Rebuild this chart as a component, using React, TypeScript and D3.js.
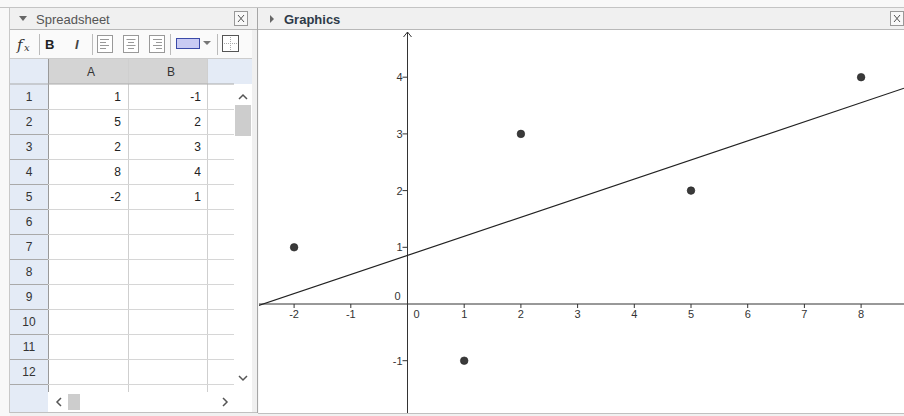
import React from 'react';
import * as d3 from 'd3';

// spreadsheet values (column A = x, column B = y)
const colA = [1, 5, 2, 8, -2];
const colB = [-1, 2, 3, 4, 1];
const rowLabels = ['1', '2', '3', '4', '5', '6', '7', '8', '9', '10', '11', '12'];
const colLabels = ['A', 'B'];
const xTicks = [-2, -1, 1, 2, 3, 4, 5, 6, 7, 8];
const yTicks = [-1, 1, 2, 3, 4];

const W = 904;
const H = 416;
const UI_FONT = '"Liberation Sans", Arial, sans-serif';

// graphics view box
const G = { x0: 258, x1: 904, y0: 30, y1: 413 };

const App: React.FC = () => {
  const x = d3.scaleLinear().domain([-2, 8]).range([294.1, 861.1]);
  const y = d3.scaleLinear().domain([-1, 4]).range([360.7, 77.2]);

  // least squares fit of B on A
  const mx = d3.mean(colA) as number;
  const my = d3.mean(colB) as number;
  const sxy = d3.sum(colA, (a, i) => (a - mx) * (colB[i] - my));
  const sxx = d3.sum(colA, (a) => (a - mx) * (a - mx));
  const slope = sxy / sxx;
  const icpt = my - slope * mx;
  const xl = x.invert(G.x0);
  const xr = x.invert(G.x1);
  const fit = d3.line<number>().x((v) => x(v)).y((v) => y(icpt + slope * v));

  const x0 = x(0);
  const y0 = y(0);

  // spreadsheet geometry
  const rowTop = 84;
  const rowH = 25;
  const hdrX = 10;
  const colX = [48, 128, 207];
  const colW = 80;

  return (
    <div style={{ position: 'absolute', left: 0, top: 0 }}>
      <svg width={W} height={H} style={{ display: 'block', fontFamily: UI_FONT }}>
        <defs>
          <clipPath id="gclip">
            <rect x={G.x0 + 1} y={G.y0} width={G.x1 - G.x0 - 1} height={G.y1 - G.y0} />
          </clipPath>
        </defs>
        <rect width={W} height={H} fill="#f1f1f1" />
        <rect width={W} height={7} fill="#f8f8f8" />
        <rect width={10} height={H} fill="#f8f8f8" />
        <line x1={0} x2={W} y1={7.5} y2={7.5} stroke="#c4c4c4" />
        <line x1={9.5} x2={9.5} y1={8} y2={413} stroke="#c8c8c8" />

        {/* ---- title bars ---- */}
        <rect x={10} y={8} width={242} height={21} fill="#f0f0f0" />
        <path d="M19,16 L27,16 L23,21 Z" fill="#666" />
        <text x={36} y={23.5} fontSize={13} fill="#555">Spreadsheet</text>
        <rect x={234.5} y={11.5} width={13} height={14} fill="#f8f8f8" stroke="#999" />
        <path d="M238,15 L244,22 M244,15 L238,22" stroke="#555" strokeWidth={1} />

        <rect x={259} y={8} width={645} height={21} fill="#f0f0f0" />
        <path d="M270,15 L274,19 L270,23 Z" fill="#666" />
        <text x={284} y={23.5} fontSize={13} fontWeight="bold" fill="#2e3a48">Graphics</text>
        <rect x={890.5} y={11.5} width={13} height={14} fill="#f8f8f8" stroke="#999" />
        <path d="M894,15 L900,22 M900,15 L894,22" stroke="#555" strokeWidth={1} />
        <line x1={10} x2={W} y1={29.5} y2={29.5} stroke="#b8b8b8" />

        {/* ---- spreadsheet toolbar ---- */}
        <rect x={10} y={30} width={242} height={29} fill="#fafafa" />
        <text x={17} y={50} fontSize={15} fontStyle="italic" fontFamily='"DejaVu Serif", serif' fill="#333">f</text>
        <text x={24} y={51} fontSize={10} fontStyle="italic" fontFamily='"DejaVu Serif", serif' fill="#333">x</text>
        <line x1={39.5} x2={39.5} y1={34} y2={55} stroke="#bbb" />
        <text x={45} y={49} fontSize={13} fontWeight="bold" fill="#222">B</text>
        <text x={75} y={49} fontSize={13} fontStyle="italic" fontWeight="bold" fill="#444">I</text>
        <line x1={92.5} x2={92.5} y1={34} y2={55} stroke="#bbb" />
        {[97, 123, 149].map((ix, k) => (
          <g key={ix}>
            <rect x={ix + 0.5} y={35.5} width={15} height={17} fill="#fff" stroke="#999" />
            {[39, 42, 45, 48].map((ly, j) => {
              const w = j % 2 === 0 ? 9 : 6;
              const lx = k === 0 ? ix + 3 : k === 1 ? ix + 8 - w / 2 : ix + 13 - w;
              return <line key={ly} x1={lx} x2={lx + w} y1={ly + 0.5} y2={ly + 0.5} stroke="#999" />;
            })}
          </g>
        ))}
        <line x1={170.5} x2={170.5} y1={34} y2={55} stroke="#bbb" />
        <rect x={176.5} y={38.5} width={23} height={10} fill="#c9cbf3" stroke="#3b4aa8" />
        <path d="M203,41 L211,41 L207,45 Z" fill="#777" />
        <line x1={217.5} x2={217.5} y1={34} y2={55} stroke="#bbb" />
        <rect x={222.5} y={35.5} width={16} height={16} fill="#fff" stroke="#555" />
        <line x1={230.5} x2={230.5} y1={37} y2={50} stroke="#aaa" strokeDasharray="1,1" />
        <line x1={224} x2={237} y1={43.5} y2={43.5} stroke="#aaa" strokeDasharray="1,1" />
        <line x1={10} x2={252} y1={58.5} y2={58.5} stroke="#ccc" />

        {/* ---- spreadsheet grid ---- */}
        <rect x={hdrX} y={59} width={242} height={354} fill="#fff" />
        <rect x={hdrX} y={59} width={colX[0] - hdrX} height={354} fill="#e4ebf6" />
        <rect x={colX[2]} y={59} width={252 - colX[2]} height={25} fill="#e4ebf6" />
        {colLabels.map((c, i) => (
          <g key={c}>
            <rect x={colX[i]} y={59} width={colW} height={25} fill="#d4d4d4" />
            <text x={colX[i] + colW / 2 + 3} y={76} fontSize={12} textAnchor="middle" fill="#333">{c}</text>
          </g>
        ))}
        {colX.map((cx) => (
          <line key={cx} x1={cx + 0.5} x2={cx + 0.5} y1={59} y2={392} stroke={cx === 48 ? '#999' : '#cfcfcf'} />
        ))}
        <line x1={hdrX} x2={234} y1={84} y2={84} stroke="#aaa" />
        {rowLabels.map((r, i) => {
          const ty = rowTop + i * rowH;
          return (
            <g key={r}>
              <text x={29} y={ty + 17} fontSize={12} textAnchor="middle" fill="#333">{r}</text>
              <line x1={hdrX} x2={colX[0]} y1={ty + rowH + 0.5} y2={ty + rowH + 0.5} stroke="#a9a9a9" />
              <line x1={colX[0]} x2={234} y1={ty + rowH + 0.5} y2={ty + rowH + 0.5} stroke="#d6d6d6" />
            </g>
          );
        })}
        {colA.map((a, i) => (
          <g key={i}>
            <text x={121} y={rowTop + i * rowH + 17} fontSize={12} textAnchor="end" fill="#222">{a}</text>
            <text x={201} y={rowTop + i * rowH + 17} fontSize={12} textAnchor="end" fill="#222">{colB[i]}</text>
          </g>
        ))}
        {/* vertical scrollbar */}
        <rect x={234} y={84} width={18} height={308} fill="#fff" />
        <path d="M239,99 L243,95 L247,99" fill="none" stroke="#555" strokeWidth={1.5} />
        <rect x={235} y={105} width={16} height={31} fill="#cdcdcd" />
        <path d="M239,376 L243,380 L247,376" fill="none" stroke="#555" strokeWidth={1.5} />
        {/* horizontal scrollbar */}
        <rect x={colX[0]} y={392} width={186} height={20} fill="#fff" />
        <path d="M61,398 L57,402 L61,406" fill="none" stroke="#555" strokeWidth={1.5} />
        <rect x={68} y={394} width={12} height={16} fill="#cdcdcd" />
        <path d="M223,398 L227,402 L223,406" fill="none" stroke="#555" strokeWidth={1.5} />
        <rect x={252} y={30} width={6} height={383} fill="#f0f0f0" />
        <line x1={257.5} x2={257.5} y1={8} y2={413} stroke="#a6a6a6" />

        {/* ---- graphics view ---- */}
        <rect x={G.x0 + 0.5} y={G.y0} width={G.x1 - G.x0} height={G.y1 - G.y0} fill="#fff" />
        <g clipPath="url(#gclip)">
          {/* axes */}
          <line x1={G.x0} x2={G.x1} y1={y0} y2={y0} stroke="#333" strokeWidth={1} />
          <line x1={x0} x2={x0} y1={G.y0 + 2} y2={G.y1} stroke="#333" strokeWidth={1} />
          <path d={`M${x0 - 4},${G.y0 + 7} L${x0},${G.y0 + 2} L${x0 + 4},${G.y0 + 7}`} fill="none" stroke="#333" />
          {xTicks.map((t) => (
            <g key={t}>
              <line x1={x(t)} x2={x(t)} y1={y0} y2={y0 + 4} stroke="#333" />
              <text x={x(t)} y={y0 + 14} fontSize={11} textAnchor="middle" fill="#333">{t}</text>
            </g>
          ))}
          {yTicks.map((t) => (
            <g key={t}>
              <line x1={x0 - 5} x2={x0} y1={y(t)} y2={y(t)} stroke="#333" />
              <text x={x0 - 5} y={y(t) + 4} fontSize={11} textAnchor="end" fill="#333">{t}</text>
            </g>
          ))}
          <text x={x0 + 9} y={y0 + 14} fontSize={11} textAnchor="middle" fill="#333">0</text>
          <text x={x0 - 10} y={y0 - 4} fontSize={11} textAnchor="middle" fill="#333">0</text>

          {/* regression line */}
          <path d={fit([xl, xr]) ?? ''} fill="none" stroke="#222" strokeWidth={1.2} />

          {/* points */}
          {colA.map((a, i) => (
            <circle key={i} cx={x(a)} cy={y(colB[i])} r={3.8} fill="#3a3a3a" stroke="#222" strokeWidth={0.6} />
          ))}
        </g>
        <line x1={G.x0} x2={G.x1} y1={413.5} y2={413.5} stroke="#c0c0c0" />
        <line x1={10} x2={257} y1={412.5} y2={412.5} stroke="#c0c0c0" />
      </svg>
    </div>
  );
};

export default App;
